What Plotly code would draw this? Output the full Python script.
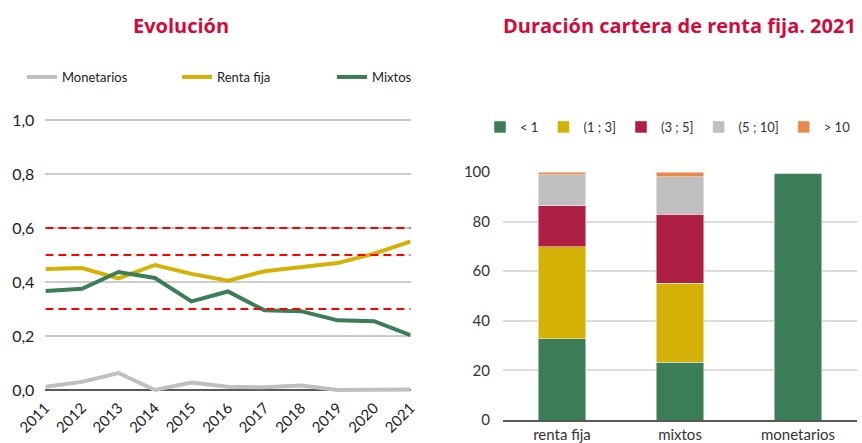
import plotly.graph_objects as go

# ---------------- data ----------------
years = ["2011", "2012", "2013", "2014", "2015", "2016", "2017", "2018", "2019", "2020", "2021"]
monetarios = [0.012, 0.030, 0.063, 0.000, 0.028, 0.012, 0.010, 0.017, 0.000, 0.000, 0.002]
renta_fija = [0.448, 0.452, 0.413, 0.463, 0.430, 0.405, 0.440, 0.455, 0.470, 0.505, 0.550]
mixtos = [0.367, 0.375, 0.437, 0.415, 0.328, 0.365, 0.295, 0.292, 0.258, 0.255, 0.203]
ref_levels = [0.6, 0.5, 0.3]

fund_types = ["renta fija", "mixtos", "monetarios"]
buckets = ["< 1", "(1 ; 3]", "(3 ; 5]", "(5 ; 10]", "> 10"]
bucket_values = {
    "< 1": [32.8, 23.2, 99.5],
    "(1 ; 3]": [37.0, 32.0, 0.5],
    "(3 ; 5]": [16.5, 27.8, 0.0],
    "(5 ; 10]": [12.5, 15.0, 0.0],
    "> 10": [1.2, 2.0, 0.0],
}
y_ticks_left = [0.0, 0.2, 0.4, 0.6, 0.8, 1.0]
y_ticks_right = [0, 20, 40, 60, 80, 100]

# ---------------- styles ----------------
W, H = 862, 443
FONT = "Lato"
TITLE_FONT = "Open Sans"
TITLE_COLOR = "#D20A3C"
C_GREEN = "#3B7D57"
C_YELLOW = "#D4B106"
C_GRAY = "#BFBFBF"
C_RED = "#AD1F43"
C_ORANGE = "#E8894A"
bucket_colors = [C_GREEN, C_YELLOW, C_RED, C_GRAY, C_ORANGE]


def px_x(p):
    return p / W


def px_y(p):
    return 1 - p / H


fig = go.Figure()

# left: lines
for name, vals, col in [("Monetarios", monetarios, C_GRAY),
                        ("Renta fija", renta_fija, C_YELLOW),
                        ("Mixtos", mixtos, C_GREEN)]:
    fig.add_trace(go.Scatter(x=years, y=vals, name=name, mode="lines",
                             line=dict(color=col, width=4),
                             xaxis="x", yaxis="y", legend="legend"))

for lvl in ref_levels:
    fig.add_trace(go.Scatter(x=[years[0], years[-1]], y=[lvl, lvl], mode="lines",
                             line=dict(color="#FF0000", width=2, dash="8px,5px"),
                             showlegend=False, hoverinfo="skip",
                             xaxis="x", yaxis="y"))

# right: stacked bars
for b, col in zip(buckets, bucket_colors):
    fig.add_trace(go.Bar(x=fund_types, y=bucket_values[b], name=b,
                         marker=dict(color=col, line=dict(color="rgba(255,255,255,0.6)", width=0.8)),
                         width=0.4, xaxis="x2", yaxis="y2", legend="legend2"))

# left axes geometry (pixels)
ppu = 270.0  # pixels per unit
y0_px, pad = 390.0, 0.02
fig.update_layout(
    width=W, height=H,
    margin=dict(l=0, r=0, t=0, b=0, autoexpand=False),
    paper_bgcolor="white", plot_bgcolor="white",
    separators=",.",
    barmode="stack",
    font=dict(family=FONT, color="#222222"),
    xaxis=dict(domain=[px_x(45.4), px_x(410.6)], type="category", automargin=False,
               tickangle=-45, tickfont=dict(size=15, color="#222"),
               showgrid=False, showline=False, zeroline=False, ticks=""),
    yaxis=dict(domain=[px_y(y0_px + pad * ppu), px_y(y0_px - (1 + pad) * ppu)],
               range=[-pad, 1 + pad], tickvals=y_ticks_left, tickformat=".1f",
               tickfont=dict(size=16, color="#222"), automargin=False,
               showgrid=True, gridcolor="#CCCCCC", gridwidth=1.5,
               zeroline=True, zerolinecolor="#595959", zerolinewidth=1.5,
               showline=False, ticks="", ticklabelstandoff=10),
    xaxis2=dict(domain=[px_x(503), px_x(857)], type="category", automargin=False,
                range=[-0.5, 2.5], tickfont=dict(size=15, color="#333"),
                showgrid=False, showline=True, linecolor="#595959", linewidth=1.5,
                ticks="", anchor="y2"),
    yaxis2=dict(domain=[px_y(420), px_y(172)], range=[0, 100], automargin=False,
                tickvals=y_ticks_right, tickfont=dict(size=15, color="#333"),
                showgrid=True, gridcolor="#DDDDDD", gridwidth=1.5,
                zeroline=False, showline=False, ticks="", anchor="x2",
                ticklabelstandoff=12),
    legend=dict(orientation="h", x=px_x(22), y=px_y(77), xanchor="left", yanchor="middle",
                font=dict(size=13, color="#222"), entrywidth=110, entrywidthmode="pixels",
                bgcolor="rgba(0,0,0,0)", traceorder="normal"),
    legend2=dict(orientation="h", x=px_x(668), y=px_y(127), xanchor="center", yanchor="middle",
                 font=dict(size=13, color="#333"), bgcolor="rgba(0,0,0,0)",
                 traceorder="normal"),
    showlegend=True,
    annotations=[
        dict(text="<b>Evolución</b>", x=px_x(181), y=px_y(25), xref="paper", yref="paper",
             xanchor="center", yanchor="middle", showarrow=False,
             font=dict(size=20, color=TITLE_COLOR, family=TITLE_FONT)),
        dict(text="<b>Duración cartera de renta fija. 2021</b>", x=px_x(679), y=px_y(25),
             xref="paper", yref="paper", xanchor="center", yanchor="middle", showarrow=False,
             font=dict(size=20, color=TITLE_COLOR, family=TITLE_FONT)),
    ],
)

fig.write_html("out.html", post_script="document.body.style.margin='0';",
               config={"displayModeBar": False})
